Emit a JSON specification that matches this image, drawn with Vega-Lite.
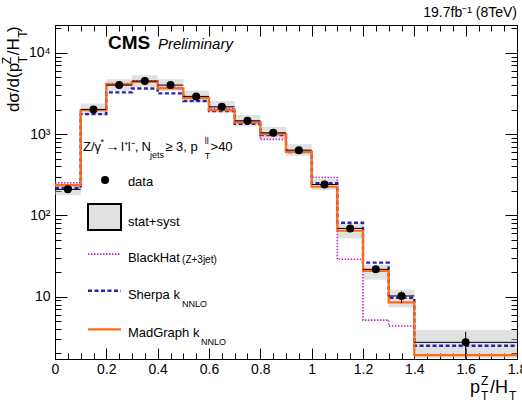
{
  "$schema": "https://vega.github.io/schema/vega-lite/v6.json",
  "width": 462,
  "height": 334,
  "autosize": {"type": "none"},
  "padding": {"left": 55, "top": 25, "right": 5, "bottom": 43},
  "background": "white",
  "title": {"text": "19.7fb⁻¹ (8TeV)", "anchor": "end", "frame": "group", "fontSize": 14, "fontWeight": "normal", "font": "Liberation Sans", "color": "black", "offset": 5},
  "config": {
    "font": "Liberation Sans",
    "view": {"stroke": "black", "strokeWidth": 1},
    "axis": {"grid": false, "domainColor": "black", "tickColor": "black", "labelColor": "black", "labelFont": "Liberation Sans", "labelFontSize": 14, "labelOverlap": false, "labelFlush": false, "title": null}
  },
  "datasets": {
    "hist": [
      {"lo": 0.0, "hi": 0.1, "xc": 0.05, "data": 209, "errlo": 203, "errhi": 215, "blo": 178, "bhi": 247},
      {"lo": 0.1, "hi": 0.2, "xc": 0.15, "data": 2014, "errlo": 1960, "errhi": 2070, "blo": 1712, "bhi": 2377},
      {"lo": 0.2, "hi": 0.3, "xc": 0.25, "data": 4009, "errlo": 3900, "errhi": 4120, "blo": 3408, "bhi": 4731},
      {"lo": 0.3, "hi": 0.4, "xc": 0.35, "data": 4487, "errlo": 4370, "errhi": 4610, "blo": 3814, "bhi": 5295},
      {"lo": 0.4, "hi": 0.5, "xc": 0.45, "data": 4009, "errlo": 3900, "errhi": 4120, "blo": 3408, "bhi": 4731},
      {"lo": 0.5, "hi": 0.6, "xc": 0.55, "data": 2911, "errlo": 2830, "errhi": 2990, "blo": 2474, "bhi": 3435},
      {"lo": 0.6, "hi": 0.7, "xc": 0.65, "data": 2168, "errlo": 2105, "errhi": 2230, "blo": 1843, "bhi": 2558},
      {"lo": 0.7, "hi": 0.8, "xc": 0.75, "data": 1459, "errlo": 1415, "errhi": 1505, "blo": 1240, "bhi": 1722},
      {"lo": 0.8, "hi": 0.9, "xc": 0.85, "data": 1038, "errlo": 1005, "errhi": 1070, "blo": 882, "bhi": 1225},
      {"lo": 0.9, "hi": 1.0, "xc": 0.95, "data": 635, "errlo": 615, "errhi": 655, "blo": 540, "bhi": 749},
      {"lo": 1.0, "hi": 1.1, "xc": 1.05, "data": 240, "errlo": 230, "errhi": 250, "blo": 205, "bhi": 280},
      {"lo": 1.1, "hi": 1.2, "xc": 1.15, "data": 69.2, "errlo": 65, "errhi": 73.5, "blo": 52, "bhi": 80},
      {"lo": 1.2, "hi": 1.3, "xc": 1.25, "data": 21.7, "errlo": 19.6, "errhi": 24.0, "blo": 16.2, "bhi": 24.7},
      {"lo": 1.3, "hi": 1.4, "xc": 1.35, "data": 10.2, "errlo": 8.3, "errhi": 11.6, "blo": 7.4, "bhi": 12.2},
      {"lo": 1.4, "hi": 1.8, "xc": 1.6, "data": 2.74, "errlo": 1.72, "errhi": 3.7, "blo": 1.76, "bhi": 3.88}
    ],
    "steps": [
      {"m": "bh", "x": 0.0, "v": 252}, {"m": "bh", "x": 0.1, "v": 1990}, {"m": "bh", "x": 0.2, "v": 4200},
      {"m": "bh", "x": 0.3, "v": 4520}, {"m": "bh", "x": 0.4, "v": 3750}, {"m": "bh", "x": 0.5, "v": 2850},
      {"m": "bh", "x": 0.6, "v": 2080}, {"m": "bh", "x": 0.7, "v": 1420}, {"m": "bh", "x": 0.8, "v": 861},
      {"m": "bh", "x": 0.9, "v": 610}, {"m": "bh", "x": 1.0, "v": 293}, {"m": "bh", "x": 1.1, "v": 28.8},
      {"m": "bh", "x": 1.2, "v": 5.15}, {"m": "bh", "x": 1.3, "v": 4.35}, {"m": "bh", "x": 1.4, "v": 4.35},
      {"m": "sh", "x": 0.0, "v": 217}, {"m": "sh", "x": 0.1, "v": 1762}, {"m": "sh", "x": 0.2, "v": 3258},
      {"m": "sh", "x": 0.3, "v": 3648}, {"m": "sh", "x": 0.4, "v": 3170}, {"m": "sh", "x": 0.5, "v": 2546},
      {"m": "sh", "x": 0.6, "v": 1918}, {"m": "sh", "x": 0.7, "v": 1340}, {"m": "sh", "x": 0.8, "v": 975},
      {"m": "sh", "x": 0.9, "v": 601}, {"m": "sh", "x": 1.0, "v": 248}, {"m": "sh", "x": 1.1, "v": 81.1},
      {"m": "sh", "x": 1.2, "v": 26.2}, {"m": "sh", "x": 1.3, "v": 9.7}, {"m": "sh", "x": 1.4, "v": 2.49},
      {"m": "sh", "x": 1.8, "v": 2.49},
      {"m": "mg", "x": 0.0, "v": 236}, {"m": "mg", "x": 0.1, "v": 1973}, {"m": "mg", "x": 0.2, "v": 4085},
      {"m": "mg", "x": 0.3, "v": 4400}, {"m": "mg", "x": 0.4, "v": 3648}, {"m": "mg", "x": 0.5, "v": 2773},
      {"m": "mg", "x": 0.6, "v": 1973}, {"m": "mg", "x": 0.7, "v": 1393}, {"m": "mg", "x": 0.8, "v": 1000},
      {"m": "mg", "x": 0.9, "v": 606}, {"m": "mg", "x": 1.0, "v": 225}, {"m": "mg", "x": 1.1, "v": 64.7},
      {"m": "mg", "x": 1.2, "v": 20.8}, {"m": "mg", "x": 1.3, "v": 8.5}, {"m": "mg", "x": 1.4, "v": 1.91},
      {"m": "mg", "x": 1.8, "v": 1.91}
    ]
  },
  "resolve": {"axis": {"x": "independent", "y": "independent"}},
  "layer": [
    {
      "data": {"name": "hist"},
      "mark": {"type": "rect", "fill": "#bdbdbd", "fillOpacity": 0.45, "strokeWidth": 0},
      "encoding": {
        "x": {"field": "lo", "type": "quantitative", "scale": {"domain": [0, 1.8], "nice": false, "zero": false},
          "axis": {"orient": "bottom", "values": [0,0.2,0.4,0.6,0.8,1,1.2,1.4,1.6,1.8], "labelExpr": "format(datum.value,'.1~f')", "tickSize": -11, "labelPadding": 14}},
        "x2": {"field": "hi"},
        "y": {"field": "blo", "type": "quantitative", "scale": {"type": "log", "domain": [1.71, 22000], "nice": false, "zero": false},
          "axis": {"orient": "left", "values": [10,100,1000,10000],
            "labelExpr": "datum.value==10?'10':datum.value==100?'10²':datum.value==1000?'10³':'10⁴'", "tickSize": -12, "labelPadding": 17}},
        "y2": {"field": "bhi"}
      }
    },
    {
      "data": {"name": "steps"},
      "transform": [{"filter": "datum.m == 'bh'"}],
      "mark": {"type": "line", "interpolate": "step-after", "color": "#c81ec8", "strokeWidth": 1.6, "strokeDash": [1.5, 1.5]},
      "encoding": {
        "x": {"field": "x", "type": "quantitative",
          "axis": {"orient": "top", "labels": false, "values": [0,0.2,0.4,0.6,0.8,1,1.2,1.4,1.6,1.8], "tickSize": -11}},
        "y": {"field": "v", "type": "quantitative",
          "axis": {"orient": "right", "labels": false, "values": [10,100,1000,10000], "tickSize": -12}}
      }
    },
    {
      "data": {"name": "steps"},
      "transform": [{"filter": "datum.m == 'sh'"}],
      "mark": {"type": "line", "interpolate": "step-after", "color": "#2424b4", "strokeWidth": 2.4, "strokeDash": [4, 2.5]},
      "encoding": {
        "x": {"field": "x", "type": "quantitative",
          "axis": {"orient": "bottom", "labels": false, "domain": false,
            "values": [0.05,0.1,0.15,0.25,0.3,0.35,0.45,0.5,0.55,0.65,0.7,0.75,0.85,0.9,0.95,1.05,1.1,1.15,1.25,1.3,1.35,1.45,1.5,1.55,1.65,1.7,1.75], "tickSize": -6}},
        "y": {"field": "v", "type": "quantitative",
          "axis": {"orient": "left", "labels": false, "domain": false,
            "values": [2,3,4,5,6,7,8,9,20,30,40,50,60,70,80,90,200,300,400,500,600,700,800,900,2000,3000,4000,5000,6000,7000,8000,9000,20000], "tickSize": -6}}
      }
    },
    {
      "data": {"name": "steps"},
      "transform": [{"filter": "datum.m == 'mg'"}],
      "mark": {"type": "line", "interpolate": "step-after", "color": "#ff6a13", "strokeWidth": 2.2},
      "encoding": {
        "x": {"field": "x", "type": "quantitative",
          "axis": {"orient": "top", "labels": false, "domain": false,
            "values": [0.05,0.1,0.15,0.25,0.3,0.35,0.45,0.5,0.55,0.65,0.7,0.75,0.85,0.9,0.95,1.05,1.1,1.15,1.25,1.3,1.35,1.45,1.5,1.55,1.65,1.7,1.75], "tickSize": -6}},
        "y": {"field": "v", "type": "quantitative",
          "axis": {"orient": "right", "labels": false, "domain": false,
            "values": [2,3,4,5,6,7,8,9,20,30,40,50,60,70,80,90,200,300,400,500,600,700,800,900,2000,3000,4000,5000,6000,7000,8000,9000,20000], "tickSize": -6}}
      }
    },
    {
      "data": {"name": "hist"},
      "mark": {"type": "rule", "color": "black", "strokeWidth": 1},
      "encoding": {
        "x": {"field": "lo", "type": "quantitative", "axis": null},
        "x2": {"field": "hi"},
        "y": {"field": "data", "type": "quantitative", "axis": null}
      }
    },
    {
      "data": {"name": "hist"},
      "mark": {"type": "rule", "color": "black", "strokeWidth": 1},
      "encoding": {
        "x": {"field": "xc", "type": "quantitative", "axis": null},
        "y": {"field": "errlo", "type": "quantitative", "axis": null},
        "y2": {"field": "errhi"}
      }
    },
    {
      "data": {"name": "hist"},
      "mark": {"type": "circle", "color": "black", "opacity": 1, "size": 64},
      "encoding": {
        "x": {"field": "xc", "type": "quantitative", "axis": null},
        "y": {"field": "data", "type": "quantitative", "axis": null}
      }
    },
    {
      "data": {"values": [{}]},
      "mark": {"type": "text", "text": "CMS", "fontWeight": "bold", "fontSize": 19, "align": "left", "baseline": "middle", "color": "black"},
      "encoding": {"x": {"datum": 0.2065, "type": "quantitative", "axis": null}, "y": {"datum": 13060, "type": "quantitative", "axis": null}}
    },
    {
      "data": {"values": [{}]},
      "mark": {"type": "text", "text": "Preliminary", "fontStyle": "italic", "fontSize": 15, "align": "left", "baseline": "middle", "color": "black"},
      "encoding": {"x": {"datum": 0.401, "type": "quantitative", "axis": null}, "y": {"datum": 12790, "type": "quantitative", "axis": null}}
    },
    {
      "data": {"values": [{}]},
      "mark": {"type": "text", "text": "Z/γ", "fontSize": 13, "align": "left", "baseline": "middle", "color": "black"},
      "encoding": {"x": {"datum": 0.109, "type": "quantitative", "axis": null}, "y": {"datum": 692, "type": "quantitative", "axis": null}}
    },
    {
      "data": {"values": [{}]},
      "mark": {"type": "text", "text": "*", "fontSize": 9, "align": "left", "baseline": "middle", "color": "black"},
      "encoding": {"x": {"datum": 0.177, "type": "quantitative", "axis": null}, "y": {"datum": 798, "type": "quantitative", "axis": null}}
    },
    {
      "data": {"values": [{}]},
      "mark": {"type": "text", "text": "→", "fontSize": 14, "align": "left", "baseline": "middle", "color": "black"},
      "encoding": {"x": {"datum": 0.197, "type": "quantitative", "axis": null}, "y": {"datum": 692, "type": "quantitative", "axis": null}}
    },
    {
      "data": {"values": [{}]},
      "mark": {"type": "text", "text": "l⁺l⁻,", "fontSize": 13, "align": "left", "baseline": "middle", "color": "black"},
      "encoding": {"x": {"datum": 0.257, "type": "quantitative", "axis": null}, "y": {"datum": 692, "type": "quantitative", "axis": null}}
    },
    {
      "data": {"values": [{}]},
      "mark": {"type": "text", "text": "N", "fontSize": 13, "align": "left", "baseline": "middle", "color": "black"},
      "encoding": {"x": {"datum": 0.337, "type": "quantitative", "axis": null}, "y": {"datum": 692, "type": "quantitative", "axis": null}}
    },
    {
      "data": {"values": [{}]},
      "mark": {"type": "text", "text": "jets", "fontSize": 9, "align": "left", "baseline": "middle", "color": "black"},
      "encoding": {"x": {"datum": 0.37, "type": "quantitative", "axis": null}, "y": {"datum": 552, "type": "quantitative", "axis": null}}
    },
    {
      "data": {"values": [{}]},
      "mark": {"type": "text", "text": "≥ 3, p", "fontSize": 13, "align": "left", "baseline": "middle", "color": "black"},
      "encoding": {"x": {"datum": 0.43, "type": "quantitative", "axis": null}, "y": {"datum": 692, "type": "quantitative", "axis": null}}
    },
    {
      "data": {"values": [{}]},
      "mark": {"type": "text", "text": "ll", "fontSize": 9, "align": "left", "baseline": "middle", "color": "black"},
      "encoding": {"x": {"datum": 0.583, "type": "quantitative", "axis": null}, "y": {"datum": 830, "type": "quantitative", "axis": null}}
    },
    {
      "data": {"values": [{}]},
      "mark": {"type": "text", "text": "T", "fontSize": 9, "align": "left", "baseline": "middle", "color": "black"},
      "encoding": {"x": {"datum": 0.583, "type": "quantitative", "axis": null}, "y": {"datum": 545, "type": "quantitative", "axis": null}}
    },
    {
      "data": {"values": [{}]},
      "mark": {"type": "text", "text": ">40", "fontSize": 13, "align": "left", "baseline": "middle", "color": "black"},
      "encoding": {"x": {"datum": 0.606, "type": "quantitative", "axis": null}, "y": {"datum": 692, "type": "quantitative", "axis": null}}
    },
    {
      "data": {"values": [{}]},
      "mark": {"type": "circle", "color": "black", "opacity": 1, "size": 64},
      "encoding": {"x": {"datum": 0.195, "type": "quantitative", "axis": null}, "y": {"datum": 272, "type": "quantitative", "axis": null}}
    },
    {
      "data": {"values": [{}]},
      "mark": {"type": "text", "text": "data", "fontSize": 13, "align": "left", "baseline": "middle", "color": "black"},
      "encoding": {"x": {"datum": 0.284, "type": "quantitative", "axis": null}, "y": {"datum": 257, "type": "quantitative", "axis": null}}
    },
    {
      "data": {"values": [{}]},
      "mark": {"type": "rect", "fill": "#bdbdbd", "fillOpacity": 0.45, "stroke": "black", "strokeWidth": 2},
      "encoding": {"x": {"datum": 0.1286, "type": "quantitative", "axis": null}, "x2": {"datum": 0.2571}, "y": {"datum": 137.7, "type": "quantitative", "axis": null}, "y2": {"datum": 65.9}}
    },
    {
      "data": {"values": [{}]},
      "mark": {"type": "text", "text": "stat+syst", "fontSize": 13, "align": "left", "baseline": "middle", "color": "black"},
      "encoding": {"x": {"datum": 0.284, "type": "quantitative", "axis": null}, "y": {"datum": 83.4, "type": "quantitative", "axis": null}}
    },
    {
      "data": {"values": [{}]},
      "mark": {"type": "rule", "color": "#c81ec8", "strokeWidth": 1.6, "strokeDash": [1.5, 1.5]},
      "encoding": {"x": {"datum": 0.1286, "type": "quantitative", "axis": null}, "x2": {"datum": 0.2571}, "y": {"datum": 33.4, "type": "quantitative", "axis": null}}
    },
    {
      "data": {"values": [{}]},
      "mark": {"type": "text", "text": "BlackHat", "fontSize": 13, "align": "left", "baseline": "middle", "color": "black"},
      "encoding": {"x": {"datum": 0.284, "type": "quantitative", "axis": null}, "y": {"datum": 29.8, "type": "quantitative", "axis": null}}
    },
    {
      "data": {"values": [{}]},
      "mark": {"type": "text", "text": "(Z+3jet)", "fontSize": 10, "align": "left", "baseline": "middle", "color": "black"},
      "encoding": {"x": {"datum": 0.495, "type": "quantitative", "axis": null}, "y": {"datum": 28.2, "type": "quantitative", "axis": null}}
    },
    {
      "data": {"values": [{}]},
      "mark": {"type": "rule", "color": "#2424b4", "strokeWidth": 2.4, "strokeDash": [4, 2.5]},
      "encoding": {"x": {"datum": 0.1286, "type": "quantitative", "axis": null}, "x2": {"datum": 0.2571}, "y": {"datum": 11.8, "type": "quantitative", "axis": null}}
    },
    {
      "data": {"values": [{}]},
      "mark": {"type": "text", "text": "Sherpa k", "fontSize": 13, "align": "left", "baseline": "middle", "color": "black"},
      "encoding": {"x": {"datum": 0.284, "type": "quantitative", "axis": null}, "y": {"datum": 10.5, "type": "quantitative", "axis": null}}
    },
    {
      "data": {"values": [{}]},
      "mark": {"type": "text", "text": "NNLO", "fontSize": 9, "align": "left", "baseline": "middle", "color": "black"},
      "encoding": {"x": {"datum": 0.495, "type": "quantitative", "axis": null}, "y": {"datum": 8.1, "type": "quantitative", "axis": null}}
    },
    {
      "data": {"values": [{}]},
      "mark": {"type": "rule", "color": "#ff6a13", "strokeWidth": 2.2},
      "encoding": {"x": {"datum": 0.1286, "type": "quantitative", "axis": null}, "x2": {"datum": 0.2571}, "y": {"datum": 3.96, "type": "quantitative", "axis": null}}
    },
    {
      "data": {"values": [{}]},
      "mark": {"type": "text", "text": "MadGraph k", "fontSize": 13, "align": "left", "baseline": "middle", "color": "black"},
      "encoding": {"x": {"datum": 0.284, "type": "quantitative", "axis": null}, "y": {"datum": 3.54, "type": "quantitative", "axis": null}}
    },
    {
      "data": {"values": [{}]},
      "mark": {"type": "text", "text": "NNLO", "fontSize": 9, "align": "left", "baseline": "middle", "color": "black"},
      "encoding": {"x": {"datum": 0.569, "type": "quantitative", "axis": null}, "y": {"datum": 2.79, "type": "quantitative", "axis": null}}
    },
    {
      "data": {"values": [{}]},
      "mark": {"type": "text", "text": "dσ/d(p", "fontSize": 17, "angle": 270, "align": "left", "baseline": "middle", "color": "black"},
      "encoding": {"x": {"datum": -0.1597, "type": "quantitative", "axis": null}, "y": {"datum": 1866, "type": "quantitative", "axis": null}}
    },
    {
      "data": {"values": [{}]},
      "mark": {"type": "text", "text": "T", "fontSize": 12, "angle": 270, "align": "left", "baseline": "middle", "color": "black"},
      "encoding": {"x": {"datum": -0.1247, "type": "quantitative", "axis": null}, "y": {"datum": 7470, "type": "quantitative", "axis": null}}
    },
    {
      "data": {"values": [{}]},
      "mark": {"type": "text", "text": "Z", "fontSize": 12, "angle": 270, "align": "left", "baseline": "middle", "color": "black"},
      "encoding": {"x": {"datum": -0.187, "type": "quantitative", "axis": null}, "y": {"datum": 7260, "type": "quantitative", "axis": null}}
    },
    {
      "data": {"values": [{}]},
      "mark": {"type": "text", "text": "/H", "fontSize": 17, "angle": 270, "align": "left", "baseline": "middle", "color": "black"},
      "encoding": {"x": {"datum": -0.1597, "type": "quantitative", "axis": null}, "y": {"datum": 9370, "type": "quantitative", "axis": null}}
    },
    {
      "data": {"values": [{}]},
      "mark": {"type": "text", "text": "T", "fontSize": 12, "angle": 270, "align": "left", "baseline": "middle", "color": "black"},
      "encoding": {"x": {"datum": -0.1247, "type": "quantitative", "axis": null}, "y": {"datum": 15380, "type": "quantitative", "axis": null}}
    },
    {
      "data": {"values": [{}]},
      "mark": {"type": "text", "text": ")", "fontSize": 17, "angle": 270, "align": "left", "baseline": "middle", "color": "black"},
      "encoding": {"x": {"datum": -0.1597, "type": "quantitative", "axis": null}, "y": {"datum": 17990, "type": "quantitative", "axis": null}}
    },
    {
      "data": {"values": [{}]},
      "mark": {"type": "text", "text": "p", "fontSize": 18, "align": "left", "baseline": "middle", "color": "black"},
      "encoding": {"x": {"datum": 1.617, "type": "quantitative", "axis": null}, "y": {"datum": 0.751, "type": "quantitative", "axis": null}}
    },
    {
      "data": {"values": [{}]},
      "mark": {"type": "text", "text": "Z", "fontSize": 12, "align": "left", "baseline": "middle", "color": "black"},
      "encoding": {"x": {"datum": 1.66, "type": "quantitative", "axis": null}, "y": {"datum": 0.916, "type": "quantitative", "axis": null}}
    },
    {
      "data": {"values": [{}]},
      "mark": {"type": "text", "text": "T", "fontSize": 12, "align": "left", "baseline": "middle", "color": "black"},
      "encoding": {"x": {"datum": 1.66, "type": "quantitative", "axis": null}, "y": {"datum": 0.598, "type": "quantitative", "axis": null}}
    },
    {
      "data": {"values": [{}]},
      "mark": {"type": "text", "text": "/H", "fontSize": 18, "align": "left", "baseline": "middle", "color": "black"},
      "encoding": {"x": {"datum": 1.695, "type": "quantitative", "axis": null}, "y": {"datum": 0.751, "type": "quantitative", "axis": null}}
    },
    {
      "data": {"values": [{}]},
      "mark": {"type": "text", "text": "T", "fontSize": 12, "align": "left", "baseline": "middle", "color": "black"},
      "encoding": {"x": {"datum": 1.769, "type": "quantitative", "axis": null}, "y": {"datum": 0.598, "type": "quantitative", "axis": null}}
    }
  ]
}
